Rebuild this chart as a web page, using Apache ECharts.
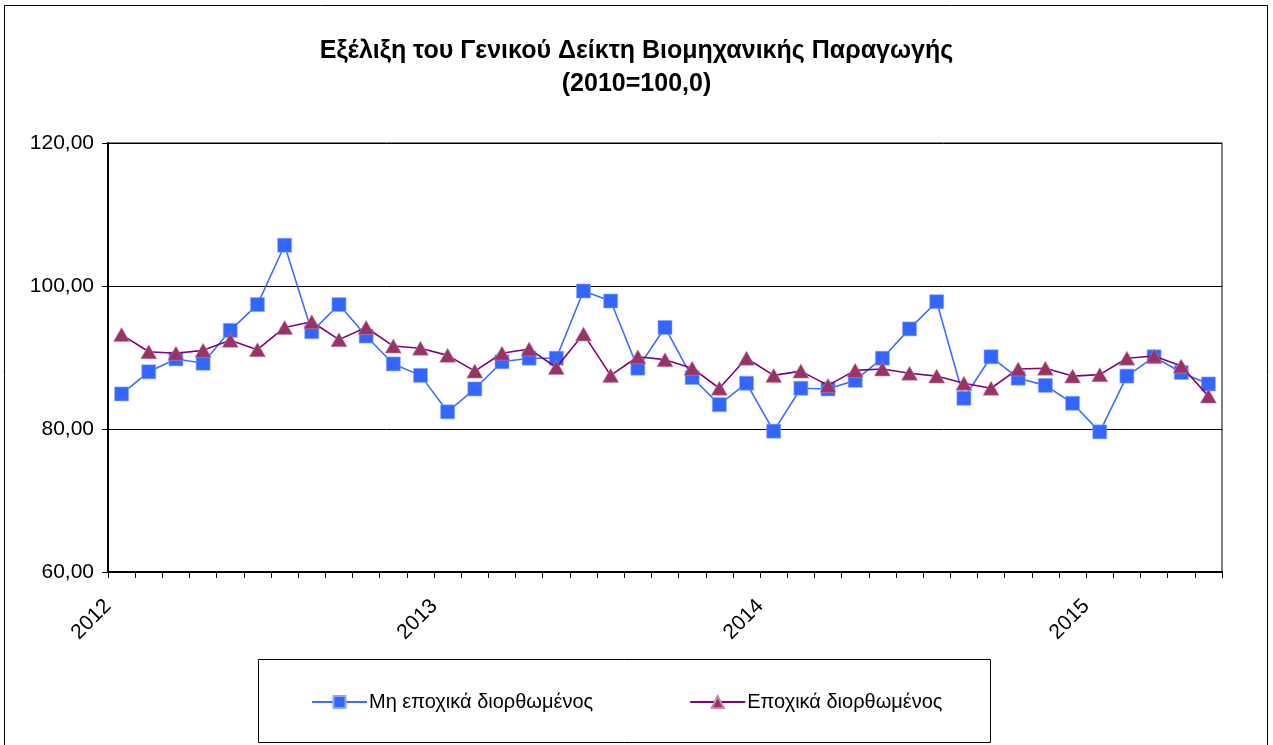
<!DOCTYPE html>
<html>
<head>
<meta charset="utf-8">
<script src="https://cdn.jsdelivr.net/npm/echarts@6/dist/echarts.min.js"></script>
<style>
html,body{margin:0;padding:0;background:#fff;}
#chart{width:1273px;height:745px;}
</style>
</head>
<body>
<div id="chart"></div>
<script>
// Months Jan 2012 .. May 2015
const months = [];
for (let y = 2012; y <= 2015; y++) {
  for (let m = 1; m <= 12; m++) {
    if (y === 2015 && m > 5) break;
    months.push(y + '-' + (m < 10 ? '0' + m : m));
  }
}
const yearLabels = ['2012', '2013', '2014', '2015'];
const yTicks = [60, 80, 100, 120];

const seriesNames = ['Μη εποχικά διορθωμένος', 'Εποχικά διορθωμένος'];

const nonAdjusted = [
  84.9, 88.0, 89.8, 89.2, 93.8, 97.4, 105.7, 93.6, 97.4, 93.0, 89.1, 87.5,
  82.4, 85.6, 89.4, 89.9, 89.9, 99.3, 97.9, 88.5, 94.2, 87.2, 83.4, 86.4,
  79.7, 85.7, 85.6, 86.8, 89.9, 94.0, 97.8, 84.3, 90.1, 87.1, 86.1, 83.6,
  79.6, 87.4, 90.1, 87.9, 86.3
];
const seasonAdjusted = [
  93.2, 90.8, 90.6, 91.0, 92.4, 91.1, 94.2, 95.0, 92.5, 94.2, 91.6, 91.3,
  90.3, 88.1, 90.6, 91.2, 88.6, 93.3, 87.5, 90.1, 89.7, 88.5, 85.7, 89.9,
  87.5, 88.1, 86.1, 88.2, 88.4, 87.8, 87.4, 86.4, 85.7, 88.4, 88.5, 87.4,
  87.6, 89.9, 90.2, 88.8, 84.6
];

const FONT = '"Liberation Sans", Arial, sans-serif';
const chart = echarts.init(document.getElementById('chart'), null, {renderer: 'canvas'});

const option = {
  backgroundColor: '#fff',
  animation: false,
  title: {
    text: 'Εξέλιξη του Γενικού Δείκτη Βιομηχανικής Παραγωγής\n(2010=100,0)',
    left: 'center',
    top: 30,
    textStyle: {fontFamily: FONT, fontSize: 25, fontWeight: 'bold', color: '#000', lineHeight: 33}
  },
  legend: {
    left: 306,
    top: 687,
    itemWidth: 55,
    itemHeight: 15,
    itemGap: 96,
    textStyle: {fontFamily: FONT, fontSize: 20, color: '#000', padding: [0, 0, 0, -3]},
    data: seriesNames
  },
  graphic: [
    {type: 'rect', shape: {x: 4.5, y: 5.5, width: 1263, height: 760}, style: {fill: 'none', stroke: '#000', lineWidth: 1}, silent: true, z: -1},
    {type: 'rect', shape: {x: 258.5, y: 659.5, width: 732, height: 83}, style: {fill: 'none', stroke: '#000', lineWidth: 1}, silent: true, z: -1}
  ],
  grid: {
    left: 108, right: 51, top: 143, bottom: 173,
    show: true, borderColor: '#000', borderWidth: 1, backgroundColor: '#fff'
  },
  xAxis: [
    {
      type: 'category',
      data: months,
      boundaryGap: true,
      axisLine: {lineStyle: {color: '#000', width: 2}},
      axisTick: {show: true, interval: 0, length: 6, lineStyle: {color: '#000', width: 1}},
      axisLabel: {show: false}
    },
    {
      type: 'value',
      min: 0,
      max: months.length,
      interval: 12,
      position: 'bottom',
      axisLine: {show: false},
      axisTick: {show: false},
      splitLine: {show: false},
      axisLabel: {
        rotate: 45,
        margin: 31,
        fontFamily: FONT,
        fontSize: 21,
        color: '#000',
        showMaxLabel: false,
        formatter: function (v) {
          const i = v / 12;
          return (Number.isInteger(i) && yearLabels[i]) ? yearLabels[i] : '';
        }
      }
    }
  ],
  yAxis: {
    type: 'value',
    min: yTicks[0],
    max: yTicks[yTicks.length - 1],
    interval: yTicks[1] - yTicks[0],
    axisLine: {show: true, lineStyle: {color: '#000', width: 2}},
    axisTick: {show: true, length: 6, lineStyle: {color: '#000'}},
    splitLine: {show: true, lineStyle: {color: '#000', width: 1}},
    axisLabel: {
      margin: 14,
      fontFamily: FONT,
      fontSize: 21,
      color: '#000',
      formatter: function (v) { return v.toFixed(2).replace('.', ','); }
    }
  },
  series: [
    {
      name: seriesNames[0],
      type: 'line',
      xAxisIndex: 0,
      data: nonAdjusted,
      symbol: 'rect',
      symbolSize: 14,
      lineStyle: {color: '#3a6eff', width: 1.6},
      itemStyle: {color: '#3366ff', borderColor: '#8aa6ff', borderWidth: 0.6},
      z: 2
    },
    {
      name: seriesNames[1],
      type: 'line',
      xAxisIndex: 0,
      data: seasonAdjusted,
      symbol: 'triangle',
      symbolSize: [16, 14],
      lineStyle: {color: '#800080', width: 1.6},
      itemStyle: {color: '#993366', borderColor: '#c08aa8', borderWidth: 0.6},
      z: 3
    }
  ]
};
chart.setOption(option);
</script>
</body>
</html>
